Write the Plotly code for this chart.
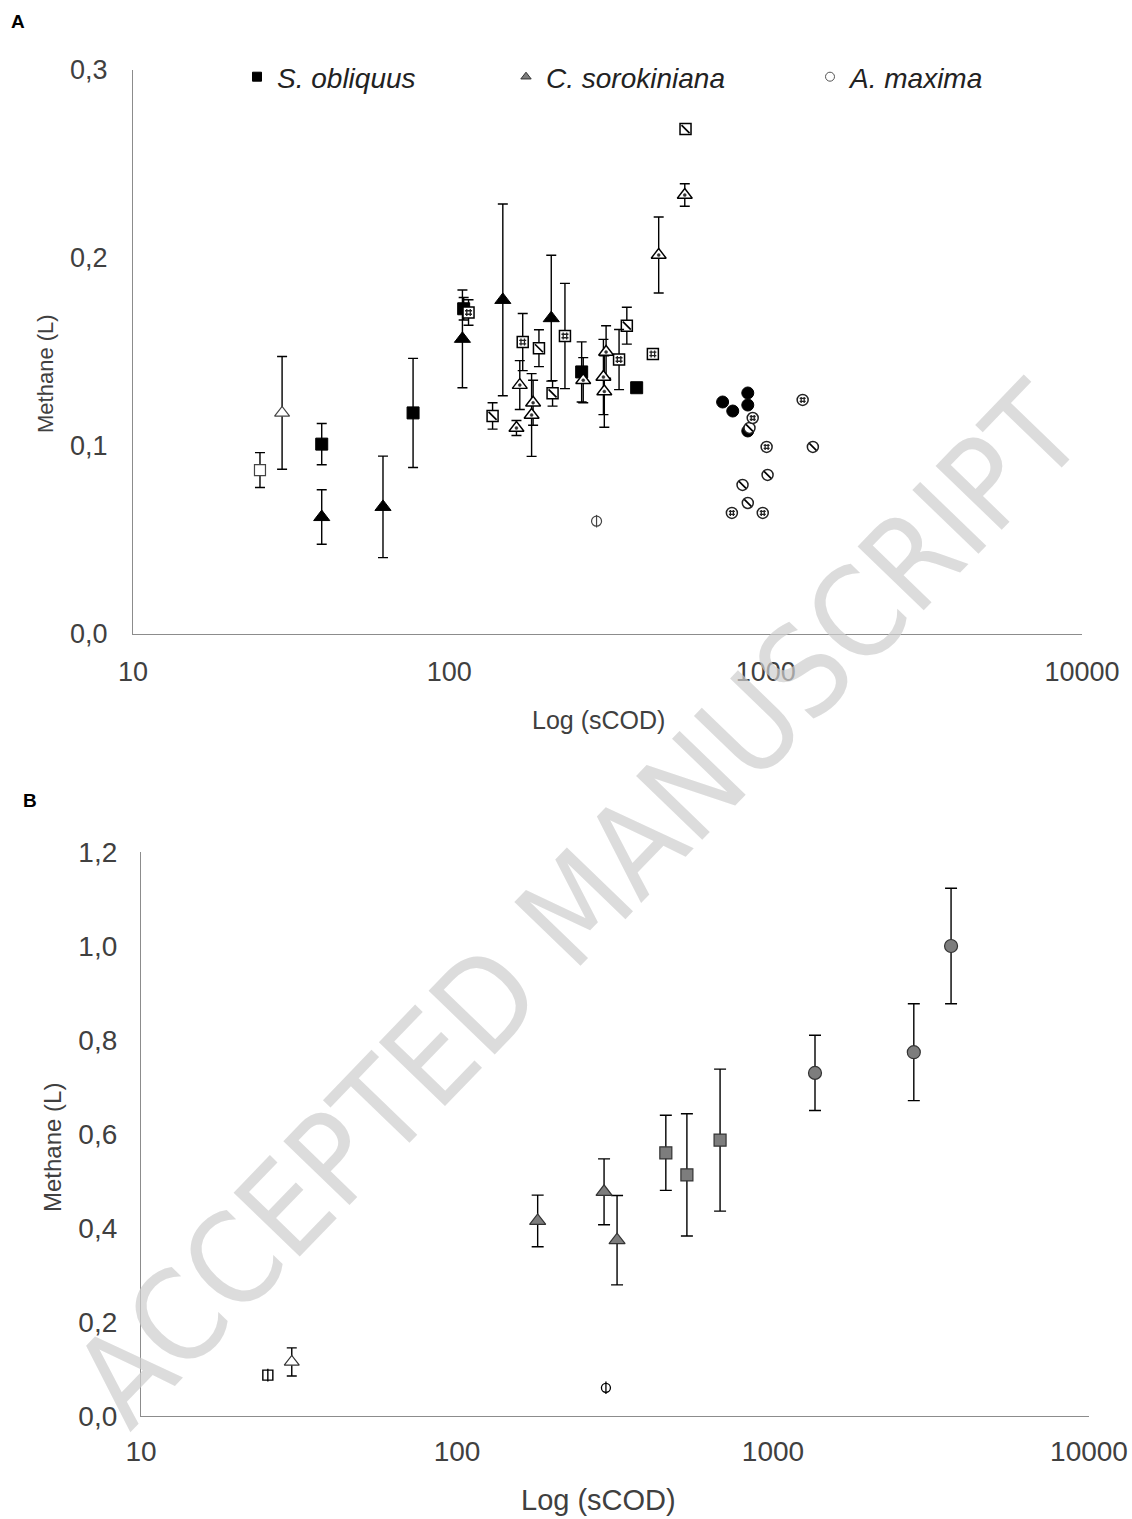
import plotly.graph_objects as go

# ---------------- Panel A data ----------------
# S. obliquus
A_so_black_x = [39.5, 76.8, 111, 262, 391]
A_so_black_y = [0.101, 0.1176, 0.173, 0.1394, 0.131]
A_so_black_e = [0.011, 0.029, 0.006, 0.016, 0.0]
A_so_open_x = [25.2]
A_so_open_y = [0.0872]
A_so_open_e = [0.0093]
A_so_hatch_x = [137, 192, 212, 364, 558]
A_so_hatch_y = [0.116, 0.152, 0.128, 0.164, 0.2686]
A_so_hatch_e = [0.007, 0.0098, 0.0068, 0.0098, 0.0]
A_so_dot_x = [115, 170.6, 232, 344, 440]
A_so_dot_y = [0.171, 0.1553, 0.1585, 0.146, 0.149]
A_so_dot_e = [0.0068, 0.0152, 0.028, 0.016, 0.0]
# C. sorokiniana
A_cs_black_x = [39.5, 61.7, 110, 147.6, 210]
A_cs_black_y = [0.0622, 0.0676, 0.157, 0.1777, 0.168]
A_cs_black_e = [0.0145, 0.027, 0.026, 0.051, 0.0335]
A_cs_open_x = [29.6]
A_cs_open_y = [0.1176]
A_cs_open_e = [0.03]
A_cs_dot_x = [163, 167, 184, 182, 265, 313, 307, 309, 459, 555]
A_cs_dot_y = [0.1096, 0.1324, 0.123, 0.1165, 0.135, 0.150, 0.1367, 0.129, 0.2016, 0.2335]
A_cs_dot_e = [0.004, 0.013, 0.012, 0.022, 0.012, 0.014, 0.02, 0.019, 0.0202, 0.006]
# A. maxima
A_am_black_x = [731, 787, 878, 878, 878]
A_am_black_y = [0.1234, 0.1186, 0.1282, 0.1218, 0.108]
A_am_hatch_x = [889, 1410, 1014, 845, 878]
A_am_hatch_y = [0.1096, 0.0995, 0.0846, 0.0793, 0.0697]
A_am_dot_x = [910, 1309, 1007, 782, 979]
A_am_dot_y = [0.1149, 0.1245, 0.0995, 0.0644, 0.0644]
A_am_vline_x = [292]
A_am_vline_y = [0.060]

# ---------------- Panel B data ----------------
B_open_sq_x = [25.2]
B_open_sq_y = [0.087]
B_open_tri_x = [30]
B_open_tri_y = [0.115]
B_open_tri_e = [0.03]
B_vline_circ_x = [296]
B_vline_circ_y = [0.06]
B_vline_circ_e = [0.004]
B_tri_x = [180, 292, 321]
B_tri_y = [0.415, 0.477, 0.374]
B_tri_e = [0.055, 0.07, 0.095]
B_sq_x = [458, 534, 680]
B_sq_y = [0.56, 0.513, 0.587]
B_sq_e = [0.08, 0.13, 0.151]
B_circ_x = [1358, 2790, 3660]
B_circ_y = [0.73, 0.774, 1.0]
B_circ_e = [0.08, 0.103, 0.123]

x_tickvals = [10, 100, 1000, 10000]
x_ticktext = ["10", "100", "1000", "10000"]
A_y_ticks = [0.0, 0.1, 0.2, 0.3]
B_y_ticks = [0.0, 0.2, 0.4, 0.6, 0.8, 1.0, 1.2]
legend_names = ["S. obliquus", "C. sorokiniana", "A. maxima"]

FONT = "Liberation Sans, Arial, sans-serif"
TXT = "#404040"
GRAY = "#7d7d7d"

fig = go.Figure()


def pts(x, y, e, symbol, fill, line, size, ax, lw=1.0, cap=5):
    xa, ya = ax
    err = None
    if e is not None:
        err = dict(type="data", array=e, visible=True, color="black",
                   thickness=1.4, width=cap)
    fig.add_trace(go.Scatter(
        x=x, y=y, mode="markers", xaxis=xa, yaxis=ya, showlegend=False,
        error_y=err, hoverinfo="x+y",
        marker=dict(symbol=symbol, size=size, color=fill,
                    line=dict(color=line, width=lw))))


def overlay(x, y, symbol, size, ax, color="black", lw=1.2):
    xa, ya = ax
    fig.add_trace(go.Scatter(
        x=x, y=y, mode="markers", xaxis=xa, yaxis=ya, showlegend=False,
        hoverinfo="skip",
        marker=dict(symbol=symbol, size=size, color=color,
                    line=dict(color=color, width=lw))))


A = ("x", "y")
B = ("x2", "y2")

# Panel A
pts(A_so_open_x, A_so_open_y, A_so_open_e, "square", "white", "#444", 11, A, 1.2)
pts(A_cs_open_x, A_cs_open_y, A_cs_open_e, "triangle-up", "white", "#444", 13, A, 1.2)
pts(A_cs_black_x, A_cs_black_y, A_cs_black_e, "triangle-up", "black", "black", 14, A)
pts(A_so_black_x, A_so_black_y, A_so_black_e, "square", "black", "black", 12, A)
pts(A_so_hatch_x, A_so_hatch_y, A_so_hatch_e, "square", "white", "black", 11, A, 1.5)
overlay(A_so_hatch_x, A_so_hatch_y, "line-nw", 8, A, "black", 1.7)
pts(A_so_dot_x, A_so_dot_y, A_so_dot_e, "square", "white", "black", 11, A, 1.5)
overlay(A_so_dot_x, A_so_dot_y, "hash", 7, A, "#222", 1.3)
pts(A_cs_dot_x, A_cs_dot_y, A_cs_dot_e, "triangle-up", "white", "black", 13, A, 1.4)
overlay(A_cs_dot_x, A_cs_dot_y, "circle", 3, A, "#333", 0.5)
pts(A_am_black_x, A_am_black_y, None, "circle", "black", "black", 12, A)
pts(A_am_hatch_x, A_am_hatch_y, None, "circle", "white", "#222", 11, A, 1.5)
overlay(A_am_hatch_x, A_am_hatch_y, "line-nw", 7, A, "black", 1.7)
pts(A_am_dot_x, A_am_dot_y, None, "circle", "white", "#222", 11, A, 1.5)
overlay(A_am_dot_x, A_am_dot_y, "hash", 6, A, "#222", 1.3)
pts(A_am_vline_x, A_am_vline_y, None, "circle", "white", "#444", 10, A, 1.2)
overlay(A_am_vline_x, A_am_vline_y, "line-ns", 9, A, "#444", 1.2)

# Panel B
pts(B_open_sq_x, B_open_sq_y, None, "square", "white", "black", 10, B, 1.4)
overlay(B_open_sq_x, B_open_sq_y, "line-ns", 9, B, "black", 1.4)
pts(B_open_tri_x, B_open_tri_y, B_open_tri_e, "triangle-up", "white", "#333", 13, B, 1.2)
pts(B_vline_circ_x, B_vline_circ_y, B_vline_circ_e, "circle", "white", "black", 9, B, 1.3, 3)
overlay(B_vline_circ_x, B_vline_circ_y, "line-ns", 9, B, "black", 1.3)
pts(B_tri_x, B_tri_y, B_tri_e, "triangle-up", GRAY, "#333", 14, B, 1.2, 6)
pts(B_sq_x, B_sq_y, B_sq_e, "square", GRAY, "#333", 12, B, 1.2, 6)
pts(B_circ_x, B_circ_y, B_circ_e, "circle", GRAY, "#333", 13, B, 1.2, 6)

# Legend entries (panel A)
leg_styles = [("square", "black", "black"), ("triangle-up", GRAY, "#333"), ("circle", "white", "#555")]
for i, (name, (sym, fc, lc)) in enumerate(zip(legend_names, leg_styles)):
    fig.add_trace(go.Scatter(
        x=[None], y=[None], mode="markers", name=name, xaxis="x", yaxis="y",
        legend="legend" if i == 0 else f"legend{i+1}",
        marker=dict(symbol=sym, size=9, color=fc, line=dict(color=lc, width=1))))

leg_common = dict(orientation="h", yanchor="middle", xanchor="left", y=1 - 77 / 1519,
                  bgcolor="rgba(0,0,0,0)", itemwidth=30,
                  font=dict(family=FONT, size=28, color="#222", style="italic"))
leg_x = [237, 506, 810]

common_x = dict(type="log", range=[1, 4], tickvals=x_tickvals, ticktext=x_ticktext,
                showline=True, linecolor="#8c8c8c", linewidth=1.3, showgrid=False,
                zeroline=False, ticks="", automargin=False)
common_y = dict(showline=True, linecolor="#8c8c8c", linewidth=1.3, showgrid=False,
                zeroline=False, ticks="", tickformat=".1f", automargin=False)

fig.update_layout(
    width=1132, height=1519, margin=dict(l=0, r=0, t=0, b=0, autoexpand=False),
    paper_bgcolor="white", plot_bgcolor="white",
    separators=", ",
    xaxis=dict(domain=[133 / 1132, 1082 / 1132], anchor="y", ticklabelstandoff=13,
               tickfont=dict(family=FONT, size=27, color=TXT), **common_x),
    yaxis=dict(domain=[1 - 634 / 1519, 1 - 70 / 1519], anchor="x", range=[0, 0.3],
               tickvals=A_y_ticks, ticklabelstandoff=19,
               tickfont=dict(family=FONT, size=27, color=TXT), **common_y),
    xaxis2=dict(domain=[141 / 1132, 1089 / 1132], anchor="y2", ticklabelstandoff=10,
                tickfont=dict(family=FONT, size=28, color=TXT), **common_x),
    yaxis2=dict(domain=[1 - 1416 / 1519, 1 - 852 / 1519], anchor="x2", range=[0, 1.2],
                tickvals=B_y_ticks, ticklabelstandoff=17,
                tickfont=dict(family=FONT, size=28, color=TXT), **common_y),
    legend=dict(x=leg_x[0] / 1132, **leg_common),
    legend2=dict(x=leg_x[1] / 1132, **leg_common),
    legend3=dict(x=leg_x[2] / 1132, **leg_common),
)

ann = []
ann.append(dict(text="<b>A</b>", x=18 / 1132, y=1 - 21 / 1519, font=dict(family=FONT, size=19, color="black")))
ann.append(dict(text="<b>B</b>", x=30 / 1132, y=1 - 800 / 1519, font=dict(family=FONT, size=19, color="black")))
ann.append(dict(text="Log (sCOD)", x=598 / 1132, y=1 - 720 / 1519, font=dict(family=FONT, size=25, color=TXT)))
ann.append(dict(text="Methane (L)", x=45 / 1132, y=1 - 374 / 1519, textangle=-90,
                font=dict(family=FONT, size=22, color=TXT)))
ann.append(dict(text="Log (sCOD)", x=598 / 1132, y=1 - 1500 / 1519, font=dict(family=FONT, size=29, color=TXT)))
ann.append(dict(text="Methane (L)", x=52 / 1132, y=1 - 1148 / 1519, textangle=-90,
                font=dict(family=FONT, size=24, color=TXT)))
for a in ann:
    a.update(xref="paper", yref="paper", showarrow=False, xanchor="center", yanchor="middle")
    fig.add_annotation(**a)

# watermark
fig.add_annotation(text="ACCEPTED MANUSCRIPT", xref="paper", yref="paper",
                   x=578 / 1132, y=1 - 905 / 1519, showarrow=False, textangle=-46,
                   xanchor="center", yanchor="middle",
                   font=dict(family="Liberation Sans Narrow, DejaVu Sans Condensed, sans-serif",
                             size=126, color="rgba(205,205,205,0.7)"))

fig.write_html("out.html")
